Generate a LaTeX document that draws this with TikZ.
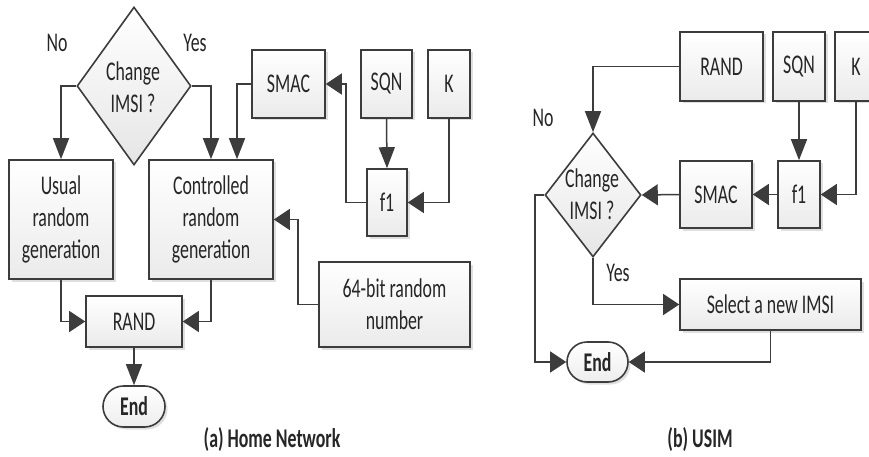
\documentclass[tikz,border=0pt]{standalone}
\usepackage{fontspec}
\setmainfont{Carlito}[FakeStretch=0.66]
\usetikzlibrary{shapes.geometric,shapes.misc,arrows.meta,shadows}
\definecolor{linec}{HTML}{3C3C3C}
\definecolor{textc}{HTML}{262626}
\begin{document}
\begin{tikzpicture}[x=1pt,y=-1pt,
  every node/.style={font=\fontsize{27}{32}\selectfont, text=textc, inner sep=0pt, align=center},
  shd/.style={drop shadow={shadow xshift=2.5pt,shadow yshift=-2.5pt,fill=gray!70,opacity=0.35}},
  box/.style={rectangle, draw=linec, line width=1.6pt, top color=white, bottom color=gray!16, shd},
  dia/.style={diamond, draw=linec, line width=1.6pt, top color=white, bottom color=gray!20},
  term/.style={rounded rectangle, draw=linec, line width=1.6pt, top color=white, bottom color=gray!14, shd},
  ln/.style={draw=linec, line width=1.5pt},
  harr/.style={-{Triangle[length=16pt,width=21pt]}},
  varr/.style={-{Triangle[length=21pt,width=16pt]}},
  captxt/.style={font=\bfseries\fontsize{27}{32}\selectfont}
]
\clip (0,0) rectangle (869,457);
\fill[white] (0,0) rectangle (869,457);
% ---------- (a) Home Network ----------
\node[dia, minimum width=114pt, minimum height=158pt] (da) at (134,86) {};
\node (dat) at (133,87) {Change\\IMSI ?};
\node[box, minimum width=104pt, minimum height=119pt] (usual) at (61,219.5) {Usual\\random\\generation};
\node[box, minimum width=124pt, minimum height=119pt] (ctrl) at (211,219.5) {Controlled\\random\\generation};
\node[box, minimum width=73pt, minimum height=68pt] (smaca) at (288.5,84) {SMAC};
\node[box, minimum width=51pt, minimum height=68pt] (sqna) at (386.5,84) {SQN};
\node[box, minimum width=42pt, minimum height=68pt] (ka) at (449,84) {K};
\node[box, minimum width=40pt, minimum height=67pt] (f1a) at (387,202.5) {f1};
\node[box, minimum width=151pt, minimum height=85pt] (bit64) at (394.5,304.5) {64-bit random\\number};
\node[box, minimum width=96pt, minimum height=51pt] (randa) at (134,321.5) {RAND};
\node[term, minimum width=62pt, minimum height=41pt] (enda) at (134,406.5) {\bfseries End};
\node (noa) at (57,43) {No};
\node (yesa) at (195,43) {Yes};
\node[captxt] (capa) at (272,440) {(a) Home Network};
\draw[ln,varr] (da.west) -| (usual.north);
\draw[ln,varr] (da.east) -| (ctrl.north);
\draw[ln,varr] (smaca.west) -| ([xshift=26pt]ctrl.north);
\draw[ln,varr] (sqna.south) -- (f1a.north);
\draw[ln,harr] (ka.south) |- (f1a.east);
\draw[ln,harr] (f1a.west) -- ++(-20,0) |- (smaca.east);
\draw[ln,harr] (bit64.west) -- ++(-20,0) |- (ctrl.east);
\draw[ln,harr] (usual.south) |- (randa.west);
\draw[ln,harr] (ctrl.south) |- (randa.east);
\draw[ln,varr] (randa.south) -- (enda.north);
% ---------- (b) USIM ----------
\node[dia, minimum width=96pt, minimum height=124pt] (db) at (593,195) {};
\node (dbt) at (592,194) {Change\\IMSI ?};
\node[box, minimum width=83pt, minimum height=69pt] (randb) at (721.5,66.5) {RAND};
\node[box, minimum width=52pt, minimum height=69pt] (sqnb) at (799,66.5) {SQN};
\node[box, minimum width=42pt, minimum height=69pt] (kb) at (856,66.5) {K};
\node[box, minimum width=72pt, minimum height=67pt] (smacb) at (716,194.5) {SMAC};
\node[box, minimum width=42pt, minimum height=67pt] (f1b) at (799,194.5) {f1};
\node[box, minimum width=181pt, minimum height=51pt] (select) at (770.5,304.5) {Select a new IMSI};
\node[term, minimum width=61pt, minimum height=40pt] (endb) at (597.5,362) {\bfseries End};
\node (nob) at (543,118) {No};
\node (yesb) at (618,273) {Yes};
\node[captxt] (capb) at (700,440) {(b) USIM};
\draw[ln,varr] (randb.west) -| (db.north);
\draw[ln,varr] (sqnb.south) -- (f1b.north);
\draw[ln,harr] (kb.south) |- (f1b.east);
\draw[ln,harr] (f1b.west) -- (smacb.east);
\draw[ln,harr] (smacb.west) -- (db.east);
\draw[ln,harr] (db.south) |- (select.west);
\draw[ln,harr] (select.south) |- (endb.east);
\draw[ln,harr] (db.west) -- ++(-9,0) |- (endb.west);
\end{tikzpicture}
\end{document}
